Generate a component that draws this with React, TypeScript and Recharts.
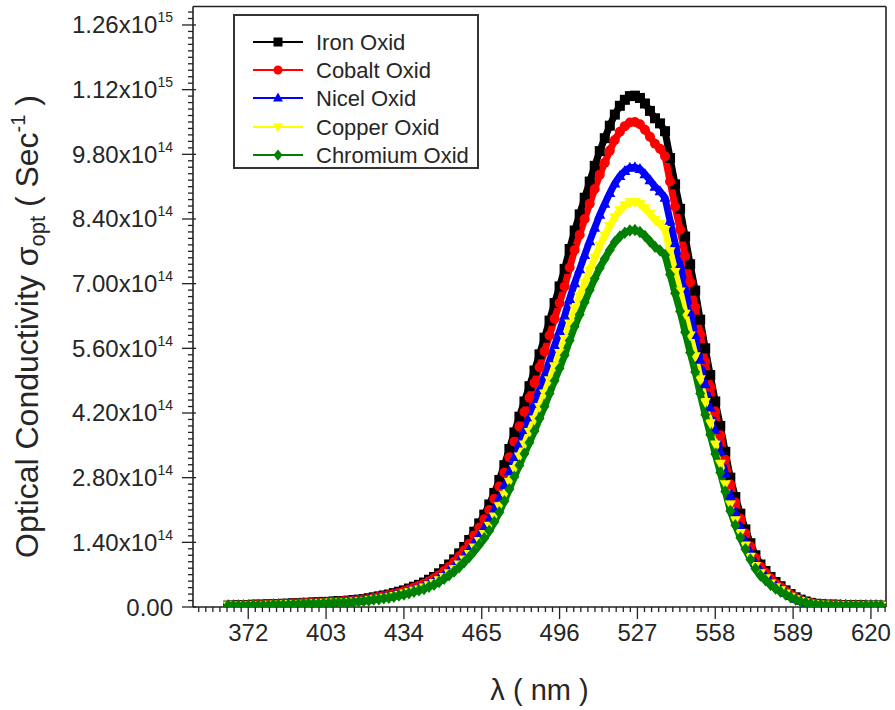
import React from 'react';
import { LineChart, Line, XAxis, YAxis, ReferenceLine } from 'recharts';

const FONT = "'Liberation Sans', Arial, sans-serif";
const TEXT = '#262626';
const AXIS = '#222';

// wavelength (nm)
const wavelengths = [
  364, 366, 368, 370, 372, 374, 376, 378, 380, 382,
  384, 386, 388, 390, 392, 394, 396, 398, 400, 402,
  404, 406, 408, 410, 412, 414, 416, 418, 420, 422,
  424, 426, 428, 430, 432, 434, 436, 438, 440, 442,
  444, 446, 448, 450, 452, 454, 456, 458, 460, 462,
  464, 466, 468, 470, 472, 474, 476, 478, 480, 482,
  484, 486, 488, 490, 492, 494, 496, 498, 500, 502,
  504, 506, 508, 510, 512, 514, 516, 518, 520, 522,
  524, 526, 528, 530, 532, 534, 536, 538, 540, 542,
  544, 546, 548, 550, 552, 554, 556, 558, 560, 562,
  564, 566, 568, 570, 572, 574, 576, 578, 580, 582,
  584, 586, 588, 590, 592, 594, 596, 598, 600, 602,
  604, 606, 608, 610, 612, 614, 616, 618, 620, 622,
  624,
];

// optical conductivity, in units of 1e14 s^-1
const ironOxid = [
  0.03, 0.03, 0.04, 0.04, 0.04, 0.05, 0.05, 0.05, 0.06, 0.06,
  0.06, 0.07, 0.07, 0.08, 0.08, 0.09, 0.09, 0.10, 0.10, 0.11,
  0.11, 0.12, 0.13, 0.13, 0.14, 0.15, 0.16, 0.17, 0.19, 0.21,
  0.23, 0.25, 0.27, 0.30, 0.33, 0.36, 0.40, 0.44, 0.48, 0.53,
  0.59, 0.65, 0.73, 0.82, 0.92, 1.03, 1.16, 1.30, 1.45, 1.63,
  1.81, 2.00, 2.22, 2.47, 2.75, 3.07, 3.42, 3.78, 4.12, 4.45,
  4.78, 5.12, 5.47, 5.83, 6.20, 6.58, 6.94, 7.32, 7.75, 8.15,
  8.50, 8.86, 9.21, 9.55, 9.87, 10.15, 10.42, 10.66, 10.85, 10.98,
  11.06, 11.07, 11.02, 10.90, 10.74, 10.58, 10.47, 10.30, 9.72, 9.15,
  8.62, 8.02, 7.42, 6.85, 6.22, 5.60, 5.02, 4.45, 3.92, 3.36,
  2.80, 2.38, 2.02, 1.68, 1.38, 1.12, 0.92, 0.78, 0.65, 0.54,
  0.45, 0.36, 0.28, 0.21, 0.16, 0.12, 0.09, 0.07, 0.06, 0.05,
  0.05, 0.05, 0.04, 0.04, 0.04, 0.04, 0.04, 0.03, 0.03, 0.03,
  0.03,
];

const cobaltOxid = [
  0.03, 0.03, 0.04, 0.04, 0.04, 0.05, 0.05, 0.05, 0.06, 0.06,
  0.06, 0.07, 0.07, 0.08, 0.08, 0.09, 0.09, 0.09, 0.10, 0.10,
  0.11, 0.11, 0.12, 0.13, 0.13, 0.14, 0.15, 0.16, 0.18, 0.20,
  0.22, 0.24, 0.26, 0.28, 0.31, 0.34, 0.38, 0.42, 0.46, 0.50,
  0.56, 0.62, 0.69, 0.78, 0.87, 0.98, 1.10, 1.23, 1.37, 1.55,
  1.72, 1.90, 2.10, 2.34, 2.61, 2.91, 3.24, 3.58, 3.91, 4.22,
  4.53, 4.85, 5.19, 5.53, 5.88, 6.24, 6.58, 6.94, 7.35, 7.73,
  8.06, 8.40, 8.73, 9.05, 9.36, 9.62, 9.88, 10.11, 10.29, 10.41,
  10.49, 10.50, 10.45, 10.33, 10.18, 10.03, 9.92, 9.76, 9.21, 8.67,
  8.17, 7.60, 7.03, 6.49, 5.90, 5.31, 4.76, 4.22, 3.72, 3.19,
  2.65, 2.26, 1.91, 1.59, 1.31, 1.06, 0.87, 0.74, 0.62, 0.51,
  0.43, 0.34, 0.27, 0.20, 0.15, 0.11, 0.09, 0.07, 0.06, 0.05,
  0.05, 0.05, 0.04, 0.04, 0.04, 0.04, 0.04, 0.03, 0.03, 0.03,
  0.03,
];

const nicelOxid = [
  0.03, 0.03, 0.03, 0.04, 0.04, 0.04, 0.05, 0.05, 0.05, 0.06,
  0.06, 0.06, 0.07, 0.07, 0.07, 0.08, 0.08, 0.09, 0.09, 0.10,
  0.10, 0.11, 0.11, 0.12, 0.12, 0.13, 0.14, 0.15, 0.16, 0.18,
  0.20, 0.22, 0.23, 0.26, 0.28, 0.31, 0.34, 0.38, 0.41, 0.46,
  0.51, 0.56, 0.63, 0.71, 0.79, 0.89, 1.00, 1.12, 1.25, 1.40,
  1.56, 1.72, 1.91, 2.12, 2.37, 2.64, 2.94, 3.25, 3.54, 3.83,
  4.11, 4.40, 4.70, 5.01, 5.33, 5.66, 5.97, 6.30, 6.67, 7.01,
  7.31, 7.62, 7.92, 8.21, 8.49, 8.73, 8.96, 9.17, 9.33, 9.44,
  9.51, 9.52, 9.48, 9.37, 9.24, 9.10, 9.00, 8.86, 8.36, 7.87,
  7.41, 6.90, 6.38, 5.89, 5.35, 4.82, 4.32, 3.83, 3.37, 2.89,
  2.41, 2.05, 1.74, 1.44, 1.19, 0.96, 0.79, 0.67, 0.56, 0.46,
  0.39, 0.31, 0.24, 0.18, 0.14, 0.10, 0.08, 0.07, 0.06, 0.06,
  0.05, 0.05, 0.05, 0.05, 0.04, 0.04, 0.04, 0.04, 0.04, 0.04,
  0.03,
];

const copperOxid = [
  0.03, 0.03, 0.03, 0.03, 0.03, 0.04, 0.04, 0.04, 0.05, 0.05,
  0.05, 0.06, 0.06, 0.06, 0.06, 0.07, 0.07, 0.08, 0.08, 0.09,
  0.09, 0.10, 0.10, 0.10, 0.11, 0.12, 0.13, 0.13, 0.15, 0.17,
  0.18, 0.20, 0.21, 0.24, 0.26, 0.29, 0.32, 0.35, 0.38, 0.42,
  0.47, 0.52, 0.58, 0.65, 0.73, 0.82, 0.92, 1.03, 1.15, 1.29,
  1.43, 1.58, 1.76, 1.96, 2.18, 2.43, 2.71, 2.99, 3.26, 3.52,
  3.79, 4.06, 4.33, 4.62, 4.91, 5.21, 5.50, 5.80, 6.14, 6.46,
  6.73, 7.02, 7.29, 7.56, 7.82, 8.04, 8.25, 8.44, 8.59, 8.70,
  8.76, 8.77, 8.73, 8.63, 8.51, 8.38, 8.29, 8.16, 7.70, 7.25,
  6.83, 6.35, 5.88, 5.43, 4.93, 4.44, 3.98, 3.52, 3.10, 2.66,
  2.22, 1.88, 1.60, 1.33, 1.09, 0.89, 0.73, 0.62, 0.51, 0.43,
  0.36, 0.29, 0.22, 0.17, 0.13, 0.10, 0.07, 0.06, 0.05, 0.05,
  0.04, 0.04, 0.04, 0.04, 0.03, 0.03, 0.03, 0.03, 0.03, 0.03,
  0.03,
];

const chromiumOxid = [
  0.03, 0.03, 0.03, 0.03, 0.03, 0.04, 0.04, 0.04, 0.04, 0.05,
  0.05, 0.05, 0.05, 0.06, 0.06, 0.07, 0.07, 0.07, 0.07, 0.08,
  0.08, 0.09, 0.10, 0.10, 0.10, 0.11, 0.12, 0.13, 0.14, 0.16,
  0.17, 0.19, 0.20, 0.22, 0.25, 0.27, 0.30, 0.33, 0.36, 0.39,
  0.44, 0.48, 0.54, 0.61, 0.69, 0.77, 0.86, 0.97, 1.08, 1.21,
  1.35, 1.49, 1.65, 1.84, 2.05, 2.29, 2.55, 2.82, 3.07, 3.32,
  3.56, 3.81, 4.08, 4.34, 4.62, 4.90, 5.17, 5.45, 5.77, 6.07,
  6.33, 6.60, 6.86, 7.11, 7.34, 7.54, 7.73, 7.90, 8.02, 8.10,
  8.15, 8.16, 8.12, 8.03, 7.91, 7.80, 7.72, 7.62, 7.20, 6.79,
  6.40, 5.95, 5.51, 5.09, 4.62, 4.16, 3.73, 3.31, 2.91, 2.50,
  2.08, 1.77, 1.50, 1.25, 1.03, 0.83, 0.68, 0.58, 0.48, 0.40,
  0.33, 0.27, 0.21, 0.16, 0.12, 0.09, 0.07, 0.05, 0.05, 0.04,
  0.04, 0.04, 0.03, 0.03, 0.03, 0.03, 0.03, 0.03, 0.03, 0.03,
  0.03,
];

const seriesNames = ['Iron Oxid', 'Cobalt Oxid', 'Nicel Oxid', 'Copper Oxid', 'Chromium Oxid'];
const seriesKeys = ['iron', 'cobalt', 'nicel', 'copper', 'chromium'];
const seriesColors = ['#000000', '#ff0000', '#0000ff', '#ffff00', '#008000'];
const seriesShapes = ['square', 'circle', 'triangle', 'triangleDown', 'diamond'];

// major tick values and labels
const xTicks = [372, 403, 434, 465, 496, 527, 558, 589, 620];
const yTicks = [0, 1.4, 2.8, 4.2, 5.6, 7.0, 8.4, 9.8, 11.2, 12.6];
const yTickMantissa = ['0.00', '1.40', '2.80', '4.20', '5.60', '7.00', '8.40', '9.80', '1.12', '1.26'];
const yTickExponent = ['', '14', '14', '14', '14', '14', '14', '14', '15', '15'];

const X_DOMAIN = [350, 626];
const Y_DOMAIN = [0, 13];

// all tick positions (major + minor) for drawing tick marks
const X_MINOR_DIV = 11;
const X_STEP = (xTicks[1] - xTicks[0]) / X_MINOR_DIV;
const xAllTicks: number[] = [];
for (let i = -7; i <= 90; i++) xAllTicks.push(+(xTicks[0] + i * X_STEP).toFixed(5));
const Y_MINOR_DIV = 10;
const Y_STEP = (yTicks[1] - yTicks[0]) / Y_MINOR_DIV;
const yAllTicks: number[] = [];
for (let i = 0; i * Y_STEP <= Y_DOMAIN[1] + 1e-9; i++) yAllTicks.push(+(i * Y_STEP).toFixed(5));

const data = wavelengths.map((w, i) => ({
  w,
  iron: ironOxid[i],
  cobalt: cobaltOxid[i],
  nicel: nicelOxid[i],
  copper: copperOxid[i],
  chromium: chromiumOxid[i],
}));

function Marker({ shape, cx, cy, color, size }: any) {
  const s = size / 2;
  switch (shape) {
    case 'square':
      return <rect x={cx - s} y={cy - s} width={size} height={size} fill={color} />;
    case 'circle':
      return <circle cx={cx} cy={cy} r={s} fill={color} />;
    case 'triangle':
      return (
        <polygon
          points={`${cx},${cy - s * 1.2} ${cx - s * 1.1},${cy + s * 0.8} ${cx + s * 1.1},${cy + s * 0.8}`}
          fill={color}
        />
      );
    case 'triangleDown':
      return (
        <polygon
          points={`${cx},${cy + s * 1.2} ${cx - s * 1.1},${cy - s * 0.8} ${cx + s * 1.1},${cy - s * 0.8}`}
          fill={color}
        />
      );
    default:
      return (
        <polygon
          points={`${cx},${cy - s * 1.25} ${cx + s},${cy} ${cx},${cy + s * 1.25} ${cx - s},${cy}`}
          fill={color}
        />
      );
  }
}

const makeDot = (shape: string, color: string) => (p: any) => {
  if (p.cx == null || p.cy == null) return <g key={`${shape}-${p.index}`} />;
  return <Marker key={`${shape}-${p.index}`} shape={shape} cx={p.cx} cy={p.cy} color={color} size={10} />;
};

const renderXTick = (props: any) => {
  const { x, y, payload } = props;
  const v = payload.value;
  const k = Math.round((v - xTicks[0]) / X_STEP);
  const major = k % X_MINOR_DIV === 0;
  const idx = k / X_MINOR_DIV;
  return (
    <g>
      <line x1={x} x2={x} y1={y} y2={y + (major ? 12 : 5)} stroke={AXIS} strokeWidth={1.3} />
      {major && idx >= 0 && idx < xTicks.length ? (
        <text x={x} y={y + 34} textAnchor="middle" fontSize={24} fontFamily={FONT} fill={TEXT}>
          {xTicks[idx]}
        </text>
      ) : null}
    </g>
  );
};

const renderYTick = (props: any) => {
  const { x, y, payload } = props;
  const v = payload.value;
  const k = Math.round(v / Y_STEP);
  const major = k % Y_MINOR_DIV === 0;
  const idx = k / Y_MINOR_DIV;
  const hasLabel = major && idx >= 0 && idx < yTicks.length;
  return (
    <g>
      <line
        x1={x - (major ? 11 : 5)}
        x2={major ? x + 3 : x}
        y1={y}
        y2={y}
        stroke={AXIS}
        strokeWidth={1.3}
      />
      {hasLabel ? (
        <text x={x - 20} y={y + 8.5} textAnchor="end" fontSize={24} fontFamily={FONT} fill={TEXT}>
          {yTickMantissa[idx]}
          {yTickExponent[idx] ? 'x10' : ''}
          {yTickExponent[idx] ? (
            <tspan fontSize={14} dy={-11}>
              {yTickExponent[idx]}
            </tspan>
          ) : null}
        </text>
      ) : null}
    </g>
  );
};

const legendRows = [42, 70, 98, 127, 155];

export default function App() {
  return (
    <div style={{ position: 'absolute', left: 0, top: 0, width: 895, height: 710, background: '#fff' }}>
      <LineChart
        width={895}
        height={710}
        data={data}
        margin={{ top: 6.5, right: 9, bottom: 0, left: 0 }}
      >
        <XAxis
          dataKey="w"
          type="number"
          domain={X_DOMAIN}
          allowDataOverflow
          ticks={xAllTicks}
          interval={0}
          tick={renderXTick}
          tickLine={false}
          tickSize={0}
          tickMargin={0}
          height={103}
          axisLine={{ stroke: AXIS, strokeWidth: 1.6 }}
        />
        <YAxis
          type="number"
          domain={Y_DOMAIN}
          allowDataOverflow
          ticks={yAllTicks}
          interval={0}
          tick={renderYTick}
          tickLine={false}
          tickSize={0}
          tickMargin={0}
          width={193}
          axisLine={{ stroke: AXIS, strokeWidth: 1.6 }}
        />
        <ReferenceLine y={Y_DOMAIN[1]} stroke={AXIS} strokeWidth={1.6} />
        <ReferenceLine x={X_DOMAIN[1]} stroke={AXIS} strokeWidth={1.6} />
        {seriesKeys.map((key, i) => (
          <Line
            key={key}
            dataKey={key}
            name={seriesNames[i]}
            type="linear"
            stroke={seriesColors[i]}
            strokeWidth={7}
            dot={makeDot(seriesShapes[i], seriesColors[i])}
            activeDot={false}
            isAnimationActive={false}
          />
        ))}
      </LineChart>
      <svg
        width={895}
        height={710}
        style={{ position: 'absolute', left: 0, top: 0, pointerEvents: 'none' }}
      >
        <rect x={234} y={15} width={244} height={153} fill="#fff" stroke="#333" strokeWidth={2} />
        {seriesNames.map((name, i) => (
          <g key={name}>
            <line x1={253} x2={303} y1={legendRows[i]} y2={legendRows[i]} stroke={seriesColors[i]} strokeWidth={2} />
            <Marker shape={seriesShapes[i]} cx={278} cy={legendRows[i]} color={seriesColors[i]} size={9} />
            <text x={316} y={legendRows[i] + 7.5} fontSize={22} fontFamily={FONT} fill={TEXT}>
              {name}
            </text>
          </g>
        ))}
        <text x={539.5} y={700} textAnchor="middle" fontSize={29} fontFamily={FONT} fill={TEXT}>
          λ ( nm )
        </text>
        <text
          transform="rotate(-90 38 558)"
          x={38}
          y={558}
          textAnchor="start"
          fontSize={32}
          fontFamily={FONT}
          fill={TEXT}
        >
          Optical Conductivity σ
          <tspan fontSize={22} dy={7}>
            opt
          </tspan>
          <tspan fontSize={32} dy={-7}>
            {' ( Sec'}
          </tspan>
          <tspan fontSize={20} dy={-13}>
            -1
          </tspan>
          <tspan fontSize={32} dy={13}>
            {' )'}
          </tspan>
        </text>
      </svg>
    </div>
  );
}
